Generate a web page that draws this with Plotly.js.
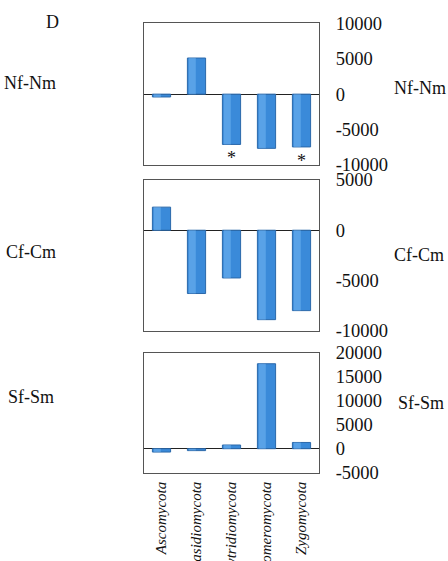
<!DOCTYPE html>
<html>
<head>
<meta charset="utf-8">
<script src="https://cdn.plot.ly/plotly-3.0.1.min.js"></script>
<style>
  html, body { margin: 0; padding: 0; background: #fff; }
  #chart { width: 448px; height: 561px; }
</style>
</head>
<body>
<div id="chart"></div>
<script>
// Fungal phyla on the shared category axis
const phyla = ['Ascomycota', 'Basidiomycota', 'Chytridiomycota', 'Glomeromycota', 'Zygomycota'];

// Differences between female and male samples for each comparison
const nfNm = [-400, 5100, -7100, -7650, -7450];
const cfCm = [2300, -6300, -4750, -8900, -8000];
const sfSm = [-700, -400, 770, 17700, 1300];

// Significance marks under the Nf-Nm bars
const nfNmSig = ['', '', '*', '', '*'];

// Tick values for each panel's right-hand axis
const ticksNf = [-10000, -5000, 0, 5000, 10000];
const ticksCf = [-10000, -5000, 0, 5000];
const ticksSf = [-5000, 0, 5000, 10000, 15000, 20000];

const serif = 'Liberation Serif, Times New Roman, serif';
const ink = '#111';

function barTrace(values, xa, ya) {
  return {
    type: 'bar', x: phyla, y: values, xaxis: xa, yaxis: ya,
    width: 0.52,
    marker: { color: '#3a8ad9', line: { color: '#2a68aa', width: 1 } },
    hoverinfo: 'none'
  };
}

// Lighter strip on the left half of each bar for a shaded look
function highlightTrace(values, xa, ya) {
  return {
    type: 'bar', x: phyla, y: values, xaxis: xa, yaxis: ya,
    width: 0.2, offset: -0.22,
    marker: { color: 'rgba(120,185,245,0.5)', line: { width: 0 } },
    hoverinfo: 'none'
  };
}

const data = [
  barTrace(nfNm, 'x', 'y'), highlightTrace(nfNm, 'x', 'y'),
  barTrace(cfCm, 'x2', 'y2'), highlightTrace(cfCm, 'x2', 'y2'),
  barTrace(sfSm, 'x3', 'y3'), highlightTrace(sfSm, 'x3', 'y3')
];

function xAxis(anchor, showLabels) {
  return {
    anchor: anchor, type: 'category', domain: [0, 1],
    categoryorder: 'array', categoryarray: phyla,
    showline: true, mirror: true, linecolor: '#555', linewidth: 1,
    showgrid: false, zeroline: false,
    showticklabels: showLabels,
    ticks: showLabels ? 'outside' : '', ticklen: 2, tickcolor: 'rgba(0,0,0,0)',
    tickangle: -90,
    tickfont: { family: serif, size: 15, color: ink, style: 'italic' }
  };
}

function yAxis(anchor, domain, range, ticks) {
  return {
    anchor: anchor, domain: domain, range: range, side: 'right',
    tickmode: 'array', tickvals: ticks, ticktext: ticks.map(String),
    showline: true, mirror: true, linecolor: '#555', linewidth: 1,
    showgrid: false,
    zeroline: true, zerolinecolor: '#222', zerolinewidth: 1,
    ticks: 'outside', ticklen: 12, tickcolor: 'rgba(0,0,0,0)',
    tickfont: { family: serif, size: 18.5, color: ink }
  };
}

function label(text, x, y, xanchor) {
  return {
    text: text, xref: 'paper', yref: 'paper', x: x, y: y,
    xanchor: xanchor, yanchor: 'middle', showarrow: false,
    font: { family: serif, size: 18, color: ink }
  };
}

// Pixel to paper helpers for the side labels
const W = 448, H = 561, L = 144, R = 129;
const px = v => (v - L) / (W - L - R);
const py = v => 1 - v / H;

const annotations = [
  label('D', px(52), py(22), 'center'),
  label('Nf-Nm', px(2), py(83), 'left'),
  label('Cf-Cm', px(4), py(252), 'left'),
  label('Sf-Sm', px(6), py(397), 'left'),
  label('Nf-Nm', px(392), py(88), 'left'),
  label('Cf-Cm', px(392), py(255), 'left'),
  label('Sf-Sm', px(396), py(403), 'left')
];

phyla.forEach((p, i) => {
  if (nfNmSig[i]) {
    annotations.push({
      text: nfNmSig[i], xref: 'x', yref: 'y', x: p, y: nfNm[i],
      xanchor: 'center', yanchor: 'top', yshift: -2, showarrow: false,
      font: { family: serif, size: 18, color: ink }
    });
  }
});

const layout = {
  width: W, height: H,
  margin: { l: L, r: R, t: 0, b: 0 },
  paper_bgcolor: '#fff', plot_bgcolor: '#fff',
  showlegend: false, barmode: 'overlay', bargap: 0.48,
  xaxis: xAxis('y', false),
  xaxis2: xAxis('y2', false),
  xaxis3: xAxis('y3', true),
  yaxis: yAxis('x', [py(165), py(23.3)], [-10000, 10000], ticksNf),
  yaxis2: yAxis('x2', [py(330.7), py(180)], [-10000, 5000], ticksCf),
  yaxis3: yAxis('x3', [py(472.7), py(352.7)], [-5000, 20000], ticksSf),
  annotations: annotations
};

Plotly.newPlot('chart', data, layout, { staticPlot: true, displayModeBar: false });
</script>
</body>
</html>
